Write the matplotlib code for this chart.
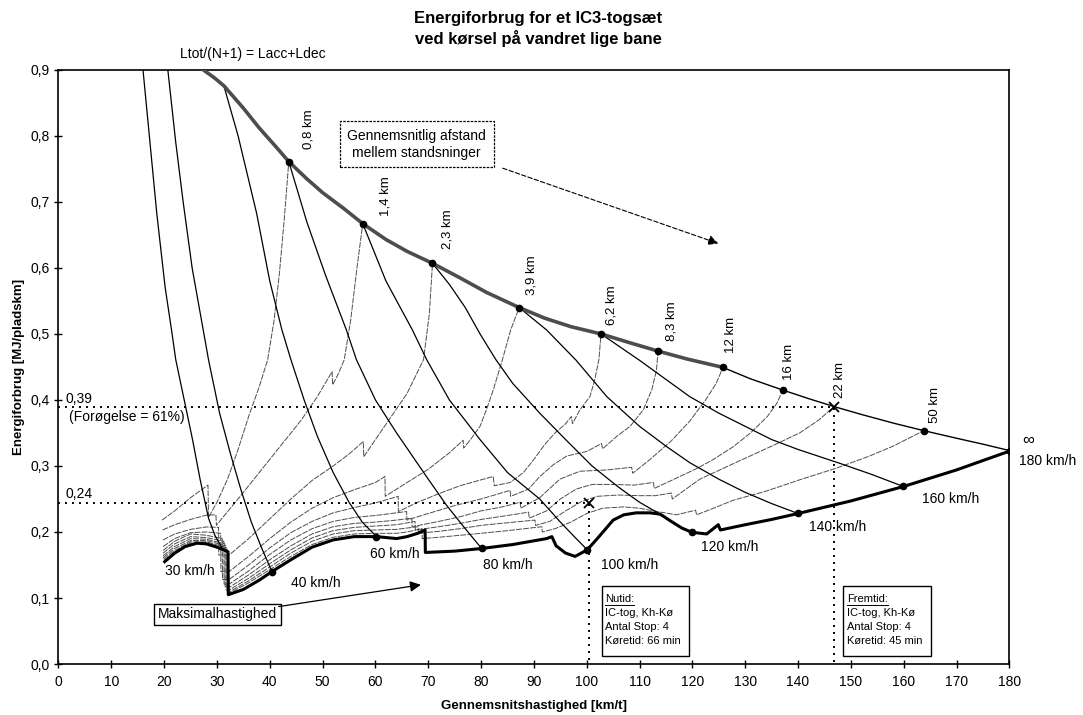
import matplotlib
matplotlib.use("Agg")
import matplotlib.pyplot as plt
from matplotlib.patches import Rectangle

plt.rcParams['font.family'] = ['Liberation Sans', 'DejaVu Sans']

# ---- data (average speed km/t, energy MJ/pladskm) ----
# top envelope Ltot/(N+1) = Lacc+Ldec (thick part)
envelope = [(27.4, 0.9), (29.5, 0.888), (31.3, 0.876), (35, 0.842), (38, 0.812), (41, 0.785),
            (43.6, 0.761), (47, 0.735), (50, 0.714), (54, 0.69), (57.6, 0.667), (62, 0.643),
            (66, 0.625), (70.8, 0.607), (76, 0.585), (81, 0.563), (87.2, 0.540), (92, 0.524),
            (97, 0.511), (102.7, 0.5), (108, 0.487), (113.5, 0.474), (119, 0.462), (125.7, 0.4495)]
# 180 km/h line from 12 km to infinity
top_180 = [(125.7, 0.4495), (131, 0.432), (137.1, 0.415), (142, 0.402), (146.8, 0.39),
           (152, 0.378), (158, 0.365), (163.8, 0.3535), (170, 0.342), (175, 0.333), (180.2, 0.323)]

# infinite distance (thick bottom line)
dist_inf = [(20.1, 0.155), (22, 0.168), (24, 0.178), (26.2, 0.183), (28, 0.182), (30, 0.177),
            (31.5, 0.172), (32.1, 0.17), (32.15, 0.105), (35, 0.113), (38, 0.127), (40.4, 0.140),
            (44, 0.158), (48, 0.177), (52, 0.188), (56, 0.193), (60.2, 0.193), (64, 0.19),
            (66, 0.193), (68, 0.198), (69.4, 0.203), (69.45, 0.169), (75, 0.171), (80.1, 0.175),
            (86, 0.181), (92.4, 0.190), (93.4, 0.193), (94.2, 0.179), (96, 0.168), (97.8, 0.163),
            (100.1, 0.173), (102, 0.19), (105, 0.218), (107, 0.226), (109.4, 0.229), (112, 0.229),
            (113.9, 0.227), (116, 0.216), (118, 0.206), (119.9, 0.1995), (122.7, 0.197),
            (124.9, 0.211), (125.3, 0.203), (130, 0.211), (135, 0.219), (140, 0.228),
            (150, 0.247), (160, 0.269), (170, 0.294), (180.2, 0.323)]

# iso-distance lines
dist_08 = [(19.6, 0.218), (22, 0.232), (25, 0.252), (28.3, 0.271), (28.4, 0.222), (30, 0.245),
           (32, 0.28), (34, 0.325), (36, 0.375), (38, 0.42), (39.6, 0.461), (40.8, 0.52),
           (41.8, 0.59), (42.7, 0.67), (43.6, 0.761)]
dist_14 = [(19.7, 0.203), (22, 0.211), (25, 0.219), (28, 0.2255), (29.8, 0.226), (29.9, 0.21),
           (31.2, 0.223), (34, 0.25), (38, 0.29), (42, 0.33), (46, 0.37), (49, 0.405),
           (51.8, 0.443), (51.9, 0.423), (53, 0.44), (54.1, 0.461), (55.3, 0.52), (56.5, 0.6),
           (57.6, 0.667)]
dist_23 = [(19.8, 0.188), (22, 0.197), (25, 0.204), (28, 0.2076), (30.3, 0.207), (30.35, 0.165),
           (32.3, 0.165), (36, 0.19), (40, 0.22), (44, 0.25), (48, 0.278), (52, 0.30), (55, 0.318),
           (57.7, 0.337), (57.8, 0.314), (60, 0.34), (63, 0.375), (66, 0.41), (69.1, 0.461),
           (70.2, 0.53), (70.8, 0.607)]
dist_39 = [(19.8, 0.178), (22, 0.19), (25, 0.199), (28, 0.2), (30.7, 0.198), (30.75, 0.14),
           (32.3, 0.14), (36, 0.163), (40, 0.19), (44, 0.215), (48, 0.236), (52, 0.252),
           (56, 0.264), (60, 0.275), (61.8, 0.284), (61.85, 0.254), (65, 0.27), (70, 0.295),
           (74, 0.32), (76.6, 0.339), (76.7, 0.327), (78, 0.34), (79.8, 0.36), (81, 0.385),
           (82.3, 0.415), (84, 0.46), (85.6, 0.506), (86.5, 0.525), (87.2, 0.54)]
dist_62 = [(19.8, 0.172), (22, 0.186), (25, 0.197), (28, 0.195), (31.0, 0.19), (31.05, 0.128),
           (32.3, 0.128), (36, 0.15), (40, 0.176), (44, 0.199), (48, 0.216), (52, 0.229),
           (56, 0.237), (60, 0.244), (64.3, 0.254), (64.35, 0.231), (68, 0.245), (72, 0.258),
           (76, 0.27), (80, 0.279), (82.3, 0.284), (82.5, 0.27), (85.5, 0.275), (88, 0.29),
           (90, 0.31), (92, 0.332), (94, 0.35), (96, 0.364), (97.1, 0.375), (97.3, 0.364),
           (98.7, 0.385), (100.6, 0.405), (101.5, 0.43), (102.3, 0.461), (102.7, 0.5)]
dist_83 = [(19.8, 0.168), (22, 0.182), (25, 0.193), (28, 0.1915), (31.3, 0.186), (31.35, 0.121),
           (32.3, 0.121), (36, 0.141), (40, 0.166), (44, 0.188), (48, 0.205), (52, 0.216),
           (56, 0.222), (60, 0.225), (63, 0.228), (65.9, 0.231), (65.95, 0.218), (70, 0.228),
           (75, 0.24), (80, 0.25), (85.5, 0.263), (85.6, 0.254), (89, 0.265), (91.1, 0.284),
           (93.7, 0.302), (96.2, 0.315), (100, 0.322), (102.8, 0.334), (103, 0.326),
           (105.7, 0.345), (108.2, 0.36), (110.7, 0.385), (112.3, 0.415), (113.2, 0.445),
           (113.5, 0.474)]
dist_12 = [(19.8, 0.164), (22, 0.178), (25, 0.19), (28, 0.189), (31.5, 0.182), (31.55, 0.116),
           (32.3, 0.116), (36, 0.135), (40, 0.158), (44, 0.179), (48, 0.197), (52, 0.208),
           (56, 0.213), (60, 0.215), (64, 0.218), (66.9, 0.221), (66.95, 0.208), (72, 0.216),
           (76, 0.223), (80, 0.232), (84, 0.238), (87.4, 0.245), (87.5, 0.236), (91.1, 0.252),
           (94.9, 0.28), (98.7, 0.292), (103.8, 0.294), (108.5, 0.298), (108.7, 0.289),
           (112, 0.31), (116, 0.338), (119.5, 0.368), (122.5, 0.4), (124.5, 0.425),
           (125.3, 0.44), (125.7, 0.4495)]
dist_16 = [(19.8, 0.161), (22, 0.175), (25, 0.187), (28, 0.187), (31.7, 0.179), (31.75, 0.112),
           (32.3, 0.112), (36, 0.13), (40, 0.152), (44, 0.173), (48, 0.191), (52, 0.202),
           (56, 0.207), (60, 0.209), (64, 0.211), (67.5, 0.216), (67.55, 0.203), (72, 0.208),
           (76, 0.213), (80, 0.219), (85, 0.225), (89, 0.23), (89.1, 0.221), (92.4, 0.232),
           (95, 0.25), (98, 0.265), (101, 0.272), (105, 0.272), (109, 0.271), (112.6, 0.275),
           (112.8, 0.266), (116, 0.278), (120.8, 0.296), (124, 0.31), (127.7, 0.329),
           (131, 0.35), (134.2, 0.375), (136, 0.395), (137.1, 0.415)]
dist_22 = [(19.9, 0.159), (22, 0.172), (25, 0.185), (28, 0.185), (31.9, 0.176), (31.95, 0.109),
           (32.3, 0.109), (36, 0.126), (40, 0.147), (44, 0.168), (48, 0.186), (52, 0.197),
           (56, 0.202), (60, 0.203), (64, 0.204), (66, 0.206), (68.1, 0.208), (68.15, 0.198),
           (72, 0.201), (76, 0.205), (80, 0.21), (85, 0.214), (90.2, 0.218), (90.3, 0.21),
           (93, 0.216), (96, 0.232), (99, 0.246), (102, 0.254), (106, 0.256), (110, 0.255),
           (113, 0.255), (116.0, 0.259), (116.2, 0.25), (121.4, 0.28), (126, 0.297),
           (130.9, 0.315), (135, 0.33), (140.3, 0.35), (144, 0.37), (146.8, 0.39)]
dist_50 = [(20.0, 0.157), (22, 0.17), (25, 0.183), (28, 0.1835), (32.0, 0.173), (32.05, 0.107),
           (32.3, 0.107), (36, 0.123), (40, 0.143), (44, 0.163), (48, 0.181), (52, 0.192),
           (56, 0.197), (60, 0.198), (64, 0.198), (66, 0.2), (68.8, 0.205), (68.85, 0.19),
           (72, 0.192), (76, 0.195), (80, 0.198), (85, 0.202), (91.5, 0.208), (91.6, 0.2),
           (94, 0.205), (97, 0.215), (100, 0.228), (103, 0.236), (107, 0.238), (110, 0.236),
           (113.3, 0.231), (117, 0.226), (120.6, 0.233), (120.8, 0.226), (124, 0.236),
           (127.7, 0.248), (134, 0.262), (140.3, 0.279), (147, 0.296), (153.2, 0.314),
           (158, 0.33), (163.8, 0.3535)]

# iso-max-speed lines
vmax_30 = [(16.0, 0.9), (17.2, 0.8), (18.6, 0.683), (20.2, 0.57), (21.4, 0.506), (22.2, 0.461),
           (23.8, 0.4), (25.4, 0.339), (26.8, 0.28), (28.4, 0.221), (29.6, 0.195), (31.0, 0.175)]
vmax_40 = [(20.7, 0.9), (22.2, 0.79), (23.6, 0.7), (25.3, 0.6), (27.4, 0.506), (28.4, 0.461),
           (30.5, 0.38), (32.5, 0.32), (34.5, 0.265), (36.5, 0.215), (38.5, 0.175), (40.4, 0.140)]
vmax_60 = [(31.3, 0.876), (34, 0.8), (37.5, 0.683), (40, 0.58), (42.3, 0.506), (44.0, 0.461),
           (46.5, 0.4), (49, 0.345), (52, 0.29), (55, 0.245), (57.5, 0.215), (60.2, 0.193)]
vmax_80 = [(43.6, 0.761), (47, 0.67), (50.5, 0.59), (54.5, 0.506), (56.4, 0.461), (60, 0.40),
           (64, 0.35), (67, 0.315), (70, 0.28), (73.5, 0.24), (77, 0.205), (80.1, 0.175)]
vmax_100 = [(57.6, 0.667), (62, 0.58), (67, 0.506), (69.7, 0.461), (74, 0.40), (79.8, 0.34),
            (85, 0.29), (91.1, 0.25), (95, 0.215), (98, 0.19), (100.1, 0.173)]
vmax_120 = [(70.8, 0.607), (74, 0.575), (77, 0.54), (79.8, 0.5), (82.8, 0.461), (86, 0.425),
            (91.1, 0.38), (96, 0.34), (101, 0.3), (106, 0.268), (110, 0.245), (113.9, 0.227)]
vmax_140 = [(87.2, 0.54), (92.4, 0.506), (98, 0.46), (103.8, 0.405), (110, 0.36), (115, 0.33),
            (119.5, 0.305), (125, 0.28), (130, 0.26), (135, 0.243), (140, 0.228)]
vmax_160 = [(102.7, 0.5), (110, 0.46), (119.5, 0.405), (125, 0.38), (130, 0.36), (135, 0.34),
            (140, 0.325), (147.9, 0.304), (154, 0.287), (159.9, 0.269)]

# marked points
env_dots = [(43.6, 0.761), (57.6, 0.667), (70.8, 0.607), (87.2, 0.540), (102.7, 0.5),
            (113.5, 0.474), (125.7, 0.4495), (137.1, 0.415), (163.8, 0.3535), (180.2, 0.323)]
bottom_dots = [(40.4, 0.140), (60.2, 0.193), (80.1, 0.175), (100.1, 0.173), (119.9, 0.1995),
               (140, 0.228), (159.9, 0.269)]
dist_labels = ["0,8 km", "1,4 km", "2,3 km", "3,9 km", "6,2 km", "8,3 km", "12 km", "16 km",
               "22 km", "50 km"]
dist_label_pos = [(47.3, 0.81), (61.9, 0.708), (73.7, 0.658), (89.6, 0.589), (104.7, 0.544),
                  (116.1, 0.519), (127.4, 0.498), (138.3, 0.458), (147.9, 0.430), (165.9, 0.392)]
speed_labels = ["30 km/h", "40 km/h", "60 km/h", "80 km/h", "100 km/h", "120 km/h",
                "140 km/h", "160 km/h", "180 km/h"]
speed_label_pos = [(24.9, 0.141), (48.7, 0.122), (63.6, 0.167), (85.1, 0.15), (108.2, 0.15),
                   (127.0, 0.177), (147.4, 0.208), (168.9, 0.250), (187.2, 0.308)]

now_point = (100.5, 0.2435)
future_point = (146.8, 0.39)

x_ticks = list(range(0, 181, 10))
y_ticks = [0.0, 0.1, 0.2, 0.3, 0.4, 0.5, 0.6, 0.7, 0.8, 0.9]
y_tick_labels = ["0,0", "0,1", "0,2", "0,3", "0,4", "0,5", "0,6", "0,7", "0,8", "0,9"]


def xy(pts):
    return [p[0] for p in pts], [p[1] for p in pts]


fig = plt.figure(figsize=(10.83, 7.15), dpi=100)
ax = fig.add_axes([0.054, 0.0713, 0.878, 0.831])
ax.set_xlim(0, 180)
ax.set_ylim(0, 0.9)

# iso distance lines (thin, dashed grey)
for line in [dist_08, dist_14, dist_23, dist_39, dist_62, dist_83, dist_12, dist_16,
             dist_22, dist_50]:
    x, y = xy(line)
    ax.plot(x, y, color='0.3', lw=0.7, dashes=(6, 1.2), zorder=2)

# iso max speed lines (thin solid)
for line in [vmax_30, vmax_40, vmax_60, vmax_80, vmax_100, vmax_120, vmax_140, vmax_160]:
    x, y = xy(line)
    ax.plot(x, y, color='k', lw=0.9, zorder=3)

x, y = xy(top_180)
ax.plot(x, y, color='k', lw=1.0, zorder=3)
x, y = xy(envelope)
ax.plot(x, y, color='0.3', lw=2.6, zorder=4)
x, y = xy(dist_inf)
ax.plot(x, y, color='k', lw=2.2, zorder=4)

x, y = xy(env_dots)
ax.plot(x, y, 'o', color='k', ms=4.5, zorder=5)
x, y = xy(bottom_dots)
ax.plot(x, y, 'o', color='k', ms=4.5, zorder=5)

# reference lines
dot_style = dict(color='k', lw=1.4, linestyle=(0, (1, 2.6)), zorder=3)
ax.plot([0, future_point[0], future_point[0]], [future_point[1], future_point[1], 0], **dot_style)
ax.plot([0, now_point[0], now_point[0]], [now_point[1], now_point[1], 0], **dot_style)
ax.plot([future_point[0], now_point[0]], [future_point[1], now_point[1]], 'x', color='k',
        ms=7, mew=1.3, zorder=6)

# texts
for lab, (px, py) in zip(dist_labels, dist_label_pos):
    ax.text(px, py, lab, rotation=90, ha='center', va='center', fontsize=9.5)
for lab, (px, py) in zip(speed_labels, speed_label_pos):
    ax.text(px, py, lab, ha='center', va='center', fontsize=10, clip_on=False)
ax.text(183.6, 0.339, "∞", ha='center', va='center', fontsize=12, clip_on=False)

ax.text(1.4, 0.401, "0,39", ha='left', va='center', fontsize=10)
ax.text(2.0, 0.374, "(Forøgelse = 61%)", ha='left', va='center', fontsize=10)
ax.text(1.4, 0.257, "0,24", ha='left', va='center', fontsize=10)

ax.text(67.8, 0.787, "Gennemsnitlig afstand\nmellem standsninger", ha='center', va='center',
        fontsize=10, linespacing=1.25,
        bbox=dict(boxstyle='square,pad=0.55', fc='white', ec='k', lw=0.9, ls=(0, (2, 1))))
ax.annotate("", xy=(124.9, 0.637), xytext=(84.1, 0.751),
            arrowprops=dict(arrowstyle='-|>', color='k', lw=0.8, linestyle=(0, (4, 2)),
                            mutation_scale=15, shrinkA=0, shrinkB=0))

ax.text(30.1, 0.0755, "Maksimalhastighed", ha='center', va='center', fontsize=10,
        bbox=dict(boxstyle='square,pad=0.25', fc='white', ec='k', lw=1.0))
ax.annotate("", xy=(68.6, 0.12), xytext=(41.7, 0.087),
            arrowprops=dict(arrowstyle='-|>', color='k', lw=0.9, mutation_scale=16,
                            shrinkA=0, shrinkB=0))

# info boxes
for x0, head, tid in [(102.8, "Nutid", "Køretid: 66 min"), (148.6, "Fremtid", "Køretid: 45 min")]:
    ax.add_patch(Rectangle((x0, 0.012), 16.5, 0.106, fill=True, fc='white', ec='k', lw=1.0,
                           zorder=6))
    ax.text(x0 + 0.7, 0.098, head + ":", fontsize=8, va='center', zorder=7)
    ax.plot([x0 + 0.7, x0 + 0.7 + len(head) * 1.1], [0.089, 0.089], color='k', lw=0.7, zorder=7)
    ax.text(x0 + 0.7, 0.077, "IC-tog, Kh-Kø", fontsize=8, va='center', zorder=7)
    ax.text(x0 + 0.7, 0.056, "Antal Stop: 4", fontsize=8, va='center', zorder=7)
    ax.text(x0 + 0.7, 0.035, tid, fontsize=8, va='center', zorder=7)

ax.text(36.8, 0.924, "Ltot/(N+1) = Lacc+Ldec", ha='center', va='center', fontsize=10,
        clip_on=False)

fig.text(0.497, 0.974, "Energiforbrug for et IC3-togsæt", ha='center', va='center',
         fontsize=12, fontweight='bold')
fig.text(0.497, 0.946, "ved kørsel på vandret lige bane", ha='center', va='center',
         fontsize=12, fontweight='bold')

ax.set_xticks(x_ticks)
ax.set_yticks(y_ticks)
ax.set_yticklabels(y_tick_labels)
ax.tick_params(axis='both', direction='inout', length=6, width=1.0, labelsize=10)
ax.tick_params(axis='x', pad=5)
ax.set_xlabel("Gennemsnitshastighed [km/t]", fontsize=9.5, fontweight='bold', labelpad=8)
ax.set_ylabel("Energiforbrug [MJ/pladskm]", fontsize=9.5, fontweight='bold', labelpad=4)
for s in ax.spines.values():
    s.set_linewidth(1.2)

fig.savefig("out.png", dpi=100)
